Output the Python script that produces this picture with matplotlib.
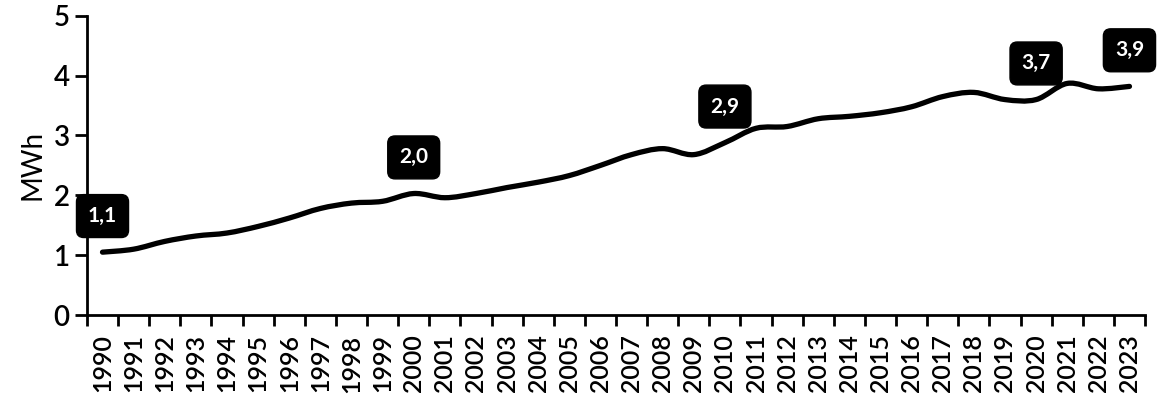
import numpy as np
import matplotlib
matplotlib.use("Agg")
from matplotlib import pyplot as plt
from matplotlib.path import Path
from matplotlib.patches import PathPatch

years = [str(y) for y in range(1990, 2024)]
mwh = [1.05, 1.10, 1.23, 1.32, 1.37, 1.48, 1.62, 1.78, 1.87, 1.90,
       2.03, 1.96, 2.03, 2.13, 2.22, 2.33, 2.50, 2.68, 2.78, 2.68,
       2.88, 3.12, 3.15, 3.28, 3.32, 3.38, 3.48, 3.65, 3.72, 3.60,
       3.60, 3.87, 3.78, 3.82]
label_years = ["1990", "2000", "2010", "2020", "2023"]
label_texts = ["1,1", "2,0", "2,9", "3,7", "3,9"]

plt.rcParams["font.family"] = ["Lato", "DejaVu Sans"]

fig = plt.figure(figsize=(11.64, 4.0), dpi=100)
ax = fig.add_axes([0.0747, 0.2125, 0.909, 0.748])

x = np.arange(len(years))
y = np.array(mwh)

# smooth line like Excel: Catmull-Rom -> cubic Bezier
verts = [(x[0], y[0])]
codes = [Path.MOVETO]
n = len(x)
for i in range(n - 1):
    p0 = (x[max(i - 1, 0)], y[max(i - 1, 0)])
    p1 = (x[i], y[i])
    p2 = (x[i + 1], y[i + 1])
    p3 = (x[min(i + 2, n - 1)], y[min(i + 2, n - 1)])
    c1 = (p1[0] + (p2[0] - p0[0]) / 6, p1[1] + (p2[1] - p0[1]) / 6)
    c2 = (p2[0] - (p3[0] - p1[0]) / 6, p2[1] - (p3[1] - p1[1]) / 6)
    verts += [c1, c2, p2]
    codes += [Path.CURVE4] * 3
ax.add_patch(PathPatch(Path(verts, codes), facecolor="none", edgecolor="black",
                       lw=3.8, capstyle="round", joinstyle="round"))

for yr, txt in zip(label_years, label_texts):
    i = years.index(yr)
    ax.annotate(txt, (x[i], y[i]), xytext=(0, 26), textcoords="offset points",
                ha="center", va="center", color="white", fontsize=15,
                fontweight="bold",
                bbox=dict(boxstyle="round,pad=0.55,rounding_size=0.35",
                          fc="black", ec="black"),
                annotation_clip=False)

ax.set_xlim(-0.5, len(years) - 0.5)
ax.set_ylim(0, 5)
ax.set_xticks(x)
ax.set_xticklabels(years, rotation=90, fontsize=18, fontweight="semibold")
ax.set_xticks(np.arange(-0.5, len(years), 1), minor=True)
ax.tick_params(axis="x", which="major", length=0, pad=14)
ax.tick_params(axis="x", which="minor", length=8, width=2, direction="out")
ax.set_yticks([0, 1, 2, 3, 4, 5])
ax.set_yticklabels(["0", "1", "2", "3", "4", "5"], fontsize=20, fontweight="semibold")
ax.tick_params(axis="y", length=9, width=2, direction="out")
ax.set_ylabel("MWh", fontsize=20, labelpad=6)

for s in ["top", "right"]:
    ax.spines[s].set_visible(False)
for s in ["left", "bottom"]:
    ax.spines[s].set_linewidth(2)

fig.savefig("out.png", dpi=100)
